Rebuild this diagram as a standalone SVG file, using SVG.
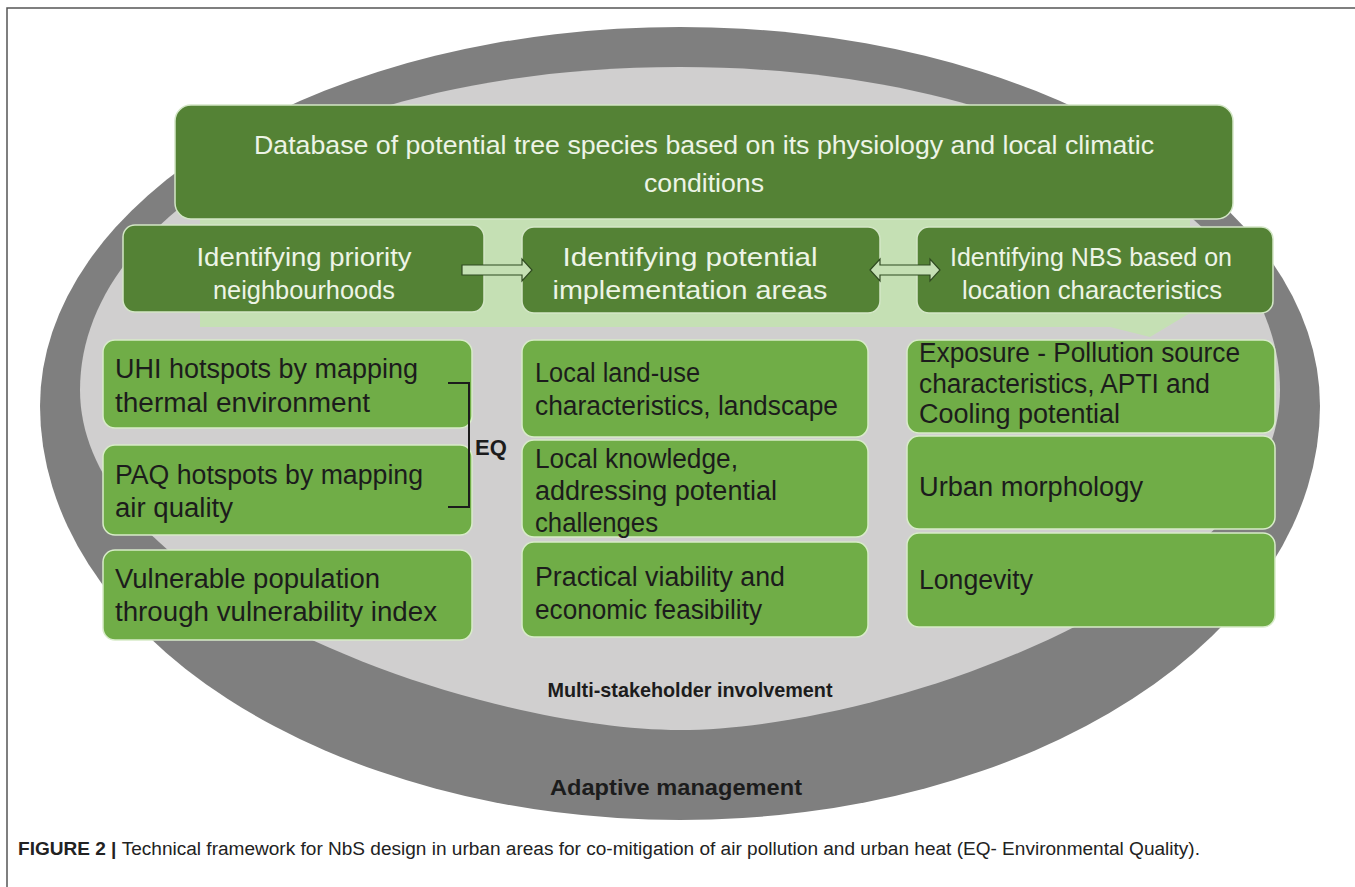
<svg xmlns="http://www.w3.org/2000/svg" width="1355" height="887" viewBox="0 0 1355 887">
<style>
.t{font-family:"Liberation Sans",Arial,sans-serif;}
.lt{fill:#edf4e6;font-size:25px;}
.dk{fill:#1c1c1c;font-size:27px;}
.b{font-weight:bold;fill:#1c1c1c;}
.dbox{fill:#548235;stroke:#d3e6c6;stroke-width:1.5;}
.gbox{fill:#70ad47;stroke:#d8ecc9;stroke-width:1.5;}
.arr{fill:#c5e0b4;stroke:#2f4a20;stroke-width:1.2;}
</style>
<rect width="1355" height="887" fill="#ffffff"/>
<path d="M7,887 V8 H1355" fill="none" stroke="#555555" stroke-width="1.5"/>
<g id="rings">
<path d="M40,406 A640,379 0 0 1 1320,406 A640,414 0 0 1 40,406 Z" fill="#7f7f7f"/>
<path d="M680,67 C1029,67 1280,212 1280,390 C1280,594 880,730 680,730 C480,730 80,594 80,390 C80,212 331,67 680,67 Z" fill="#d0cfcf"/>
<path d="M200,219 H1190 V313 L1150,337 L1110,327 H200 Z" fill="#c5e0b4"/>
</g>
<g id="n-database">
<rect class="dbox" x="175" y="105" width="1058" height="114" rx="16" stroke="none"/>
<text class="t lt" x="704" y="154" text-anchor="middle" textLength="900" lengthAdjust="spacingAndGlyphs">Database of potential tree species based on its physiology and local climatic</text>
<text class="t lt" x="704" y="192" text-anchor="middle" textLength="120" lengthAdjust="spacingAndGlyphs">conditions</text>
</g>
<g id="n-priority">
<rect class="dbox" x="123" y="225" width="361" height="87" rx="12"/>
<text class="t lt" x="304" y="266" text-anchor="middle" textLength="215" lengthAdjust="spacingAndGlyphs">Identifying priority</text>
<text class="t lt" x="304" y="299" text-anchor="middle" textLength="182" lengthAdjust="spacingAndGlyphs">neighbourhoods</text>
</g>
<g id="n-implementation">
<rect class="dbox" x="522" y="227" width="358" height="86" rx="12"/>
<text class="t lt" x="690" y="266" text-anchor="middle" textLength="255" lengthAdjust="spacingAndGlyphs">Identifying potential</text>
<text class="t lt" x="690" y="299" text-anchor="middle" textLength="275" lengthAdjust="spacingAndGlyphs">implementation areas</text>
</g>
<g id="n-nbs">
<rect class="dbox" x="917" y="227" width="356" height="86" rx="12"/>
<text class="t lt" x="1091" y="266" text-anchor="middle" textLength="282" lengthAdjust="spacingAndGlyphs">Identifying NBS based on</text>
<text class="t lt" x="1092" y="299" text-anchor="middle" textLength="260" lengthAdjust="spacingAndGlyphs">location characteristics</text>
</g>
<g id="n-uhi">
<rect class="gbox" x="103" y="340" width="369" height="88" rx="12"/>
<text class="t dk" x="115" y="378" textLength="303" lengthAdjust="spacingAndGlyphs">UHI hotspots by mapping</text>
<text class="t dk" x="115" y="412" textLength="255" lengthAdjust="spacingAndGlyphs">thermal environment</text>
</g>
<g id="n-paq">
<rect class="gbox" x="103" y="445" width="369" height="90" rx="12"/>
<text class="t dk" x="115" y="484" textLength="308" lengthAdjust="spacingAndGlyphs">PAQ hotspots by mapping</text>
<text class="t dk" x="115" y="517" textLength="118" lengthAdjust="spacingAndGlyphs">air quality</text>
</g>
<g id="n-vulnerable">
<rect class="gbox" x="103" y="550" width="369" height="90" rx="12"/>
<text class="t dk" x="115" y="588" textLength="265" lengthAdjust="spacingAndGlyphs">Vulnerable population</text>
<text class="t dk" x="115" y="621" textLength="322" lengthAdjust="spacingAndGlyphs">through vulnerability index</text>
</g>
<g id="n-landuse">
<rect class="gbox" x="522" y="340" width="346" height="97" rx="12"/>
<text class="t dk" x="535" y="382" textLength="165" lengthAdjust="spacingAndGlyphs">Local land-use</text>
<text class="t dk" x="535" y="415" textLength="303" lengthAdjust="spacingAndGlyphs">characteristics, landscape</text>
</g>
<g id="n-knowledge">
<rect class="gbox" x="522" y="440" width="346" height="97" rx="12"/>
<text class="t dk" x="535" y="468" textLength="203" lengthAdjust="spacingAndGlyphs">Local knowledge,</text>
<text class="t dk" x="535" y="500" textLength="242" lengthAdjust="spacingAndGlyphs">addressing potential</text>
<text class="t dk" x="535" y="532" textLength="123" lengthAdjust="spacingAndGlyphs">challenges</text>
</g>
<g id="n-viability">
<rect class="gbox" x="522" y="542" width="346" height="95" rx="12"/>
<text class="t dk" x="535" y="586" textLength="250" lengthAdjust="spacingAndGlyphs">Practical viability and</text>
<text class="t dk" x="535" y="619" textLength="227" lengthAdjust="spacingAndGlyphs">economic feasibility</text>
</g>
<g id="n-exposure">
<rect class="gbox" x="907" y="340" width="368" height="93" rx="12"/>
<text class="t dk" x="919" y="362" textLength="321" lengthAdjust="spacingAndGlyphs">Exposure - Pollution source</text>
<text class="t dk" x="919" y="393" textLength="291" lengthAdjust="spacingAndGlyphs">characteristics, APTI and</text>
<text class="t dk" x="919" y="423" textLength="201" lengthAdjust="spacingAndGlyphs">Cooling potential</text>
</g>
<g id="n-morphology">
<rect class="gbox" x="907" y="436" width="368" height="93" rx="12"/>
<text class="t dk" x="919" y="496" textLength="224" lengthAdjust="spacingAndGlyphs">Urban morphology</text>
</g>
<g id="n-longevity">
<rect class="gbox" x="907" y="533" width="368" height="94" rx="12"/>
<text class="t dk" x="919" y="589" textLength="114" lengthAdjust="spacingAndGlyphs">Longevity</text>
</g>
<g id="connectors">
<path class="arr" d="M462,265 H522 V259 L532,270 L522,281 V275 H462 Z"/>
<path class="arr" d="M870,270 L880,259 V265 H930 V259 L940,270 L930,281 V275 H880 V281 Z"/>
<path d="M448,383 H469 V507 H448" fill="none" stroke="#1c1c1c" stroke-width="2"/>
<text class="t b" x="475" y="455" font-size="22">EQ</text>
</g>
<g id="labels">
<text class="t b" x="690" y="697" font-size="21" text-anchor="middle" textLength="285" lengthAdjust="spacingAndGlyphs">Multi-stakeholder involvement</text>
<text class="t b" x="676" y="795" font-size="22" text-anchor="middle" textLength="252" lengthAdjust="spacingAndGlyphs">Adaptive management</text>
</g>
<g id="caption">
<text class="t" x="18" y="855" font-size="18" fill="#222222" textLength="1182" lengthAdjust="spacingAndGlyphs"><tspan font-weight="bold">FIGURE 2 | </tspan><tspan>Technical framework for NbS design in urban areas for co-mitigation of air pollution and urban heat (EQ- Environmental Quality).</tspan></text>
</g>
</svg>
